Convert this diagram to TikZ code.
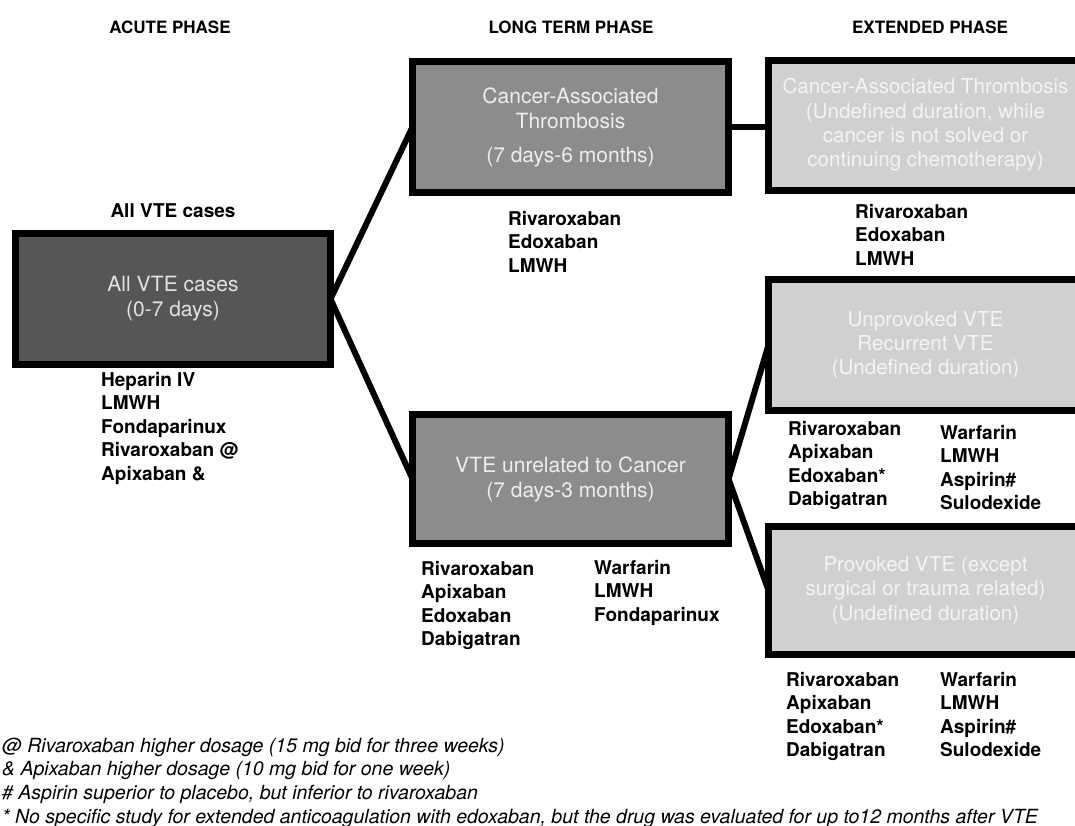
\documentclass[tikz,border=0pt]{standalone}
\usepackage{fontspec}
\setmainfont{TeX Gyre Heros}
\definecolor{acutefill}{HTML}{565656}
\definecolor{acutetext}{HTML}{E2E2E2}
\definecolor{ltfill}{HTML}{8C8C8C}
\definecolor{lttext}{HTML}{EEEEEE}
\definecolor{extfill}{HTML}{D0D0D0}
\definecolor{exttext}{HTML}{F4F4F4}
\pgfdeclarelayer{background}
\pgfsetlayers{background,main}
\begin{document}
\begin{tikzpicture}[x=1pt,y=-1pt,
  phase/.style={font=\fontsize{17}{20}\selectfont\bfseries, inner sep=0pt},
  boxbase/.style={draw=black, line width=7pt, inner sep=0pt, outer sep=0pt, align=center},
  acutebox/.style={boxbase, fill=acutefill, text=acutetext, font=\fontsize{21}{25}\selectfont},
  ltbox/.style={boxbase, fill=ltfill, text=lttext, font=\fontsize{21}{25}\selectfont},
  extbox/.style={boxbase, fill=extfill, text=exttext, font=\fontsize{20.6}{24.3}\selectfont},
  drugs/.style={anchor=north west, inner sep=0pt, align=left, font=\fontsize{19}{23.5}\selectfont\bfseries},
  note/.style={anchor=west, inner sep=0pt, font=\fontsize{19.5}{22}\selectfont\itshape},
  link/.style={line width=6pt, draw=black}
]
\useasboundingbox (0,0) rectangle (1075,826);

% phase headers
\node[phase] (hacute) at (170,27) {ACUTE PHASE};
\node[phase] (hlong) at (571,27) {LONG TERM PHASE};
\node[phase] (hext) at (930,27) {EXTENDED PHASE};
\node[phase, font=\fontsize{19}{23}\selectfont\bfseries] (allvte) at (173,211) {All VTE cases};

% boxes
\node[acutebox, minimum width=315pt, minimum height=131pt] (acute) at (173,299) {All VTE cases\\(0-7 days)};
\node[ltbox, minimum width=316pt, minimum height=131pt] (cat) at (570.5,127) {Cancer-Associated\\Thrombosis\\[9pt](7 days-6 months)};
\node[ltbox, minimum width=316pt, minimum height=129pt] (vte) at (570.5,479) {VTE unrelated to Cancer\\(7 days-3 months)};
\node[extbox, minimum width=314pt, minimum height=130pt] (extcat) at (925.5,125.5) {\raisebox{-2pt}{\begin{tabular}{@{}c@{}}Cancer-Associated Thrombosis\\(Undefined duration, while\\cancer is not solved or\\continuing chemotherapy)\end{tabular}}};
\node[extbox, minimum width=314pt, minimum height=131pt] (unprov) at (925.5,345) {Unprovoked VTE\\Recurrent VTE\\(Undefined duration)};
\node[extbox, minimum width=314pt, minimum height=128pt] (prov) at (925.5,590.5) {Provoked VTE (except\\surgical or trauma related)\\(Undefined duration)};

% connectors
\begin{pgfonlayer}{background}
\draw[link] (acute.east) -- (cat.west);
\draw[link] (acute.east) -- (vte.west);
\draw[link] (cat.east) -- (cat.east -| extcat.west);
\draw[link] (vte.east) -- (unprov.west);
\draw[link] (vte.east) -- (prov.west);
\end{pgfonlayer}

% drug lists
\node[drugs] (dacute) at (101,372) {Heparin IV\\LMWH\\Fondaparinux\\Rivaroxaban @\\Apixaban \&};
\node[drugs] (dcat) at (508,211) {Rivaroxaban\\Edoxaban\\LMWH};
\node[drugs] (dext) at (855,204) {Rivaroxaban\\Edoxaban\\LMWH};
\node[drugs] (dunprovA) at (788,421) {Rivaroxaban\\Apixaban\\Edoxaban*\\Dabigatran};
\node[drugs] (dunprovB) at (940,425) {Warfarin\\LMWH\\Aspirin\#\\Sulodexide};
\node[drugs] (dvteA) at (421,561) {Rivaroxaban\\Apixaban\\Edoxaban\\Dabigatran};
\node[drugs] (dvteB) at (594,560) {Warfarin\\LMWH\\Fondaparinux};
\node[drugs] (dprovA) at (786,672) {Rivaroxaban\\Apixaban\\Edoxaban*\\Dabigatran};
\node[drugs] (dprovB) at (940,672) {Warfarin\\LMWH\\Aspirin\#\\Sulodexide};

% footnotes
\node[note] (nA) at (2,747) {@ Rivaroxaban higher dosage (15 mg bid for three weeks)};
\node[note] (nB) at (2,770) {\& Apixaban higher dosage (10 mg bid for one week)};
\node[note] (nC) at (2,794) {\# Aspirin superior to placebo, but inferior to rivaroxaban};
\node[note] (nD) at (2,818) {* No specific study for extended anticoagulation with edoxaban, but the drug was evaluated for up to12 months after VTE};
\end{tikzpicture}
\end{document}
